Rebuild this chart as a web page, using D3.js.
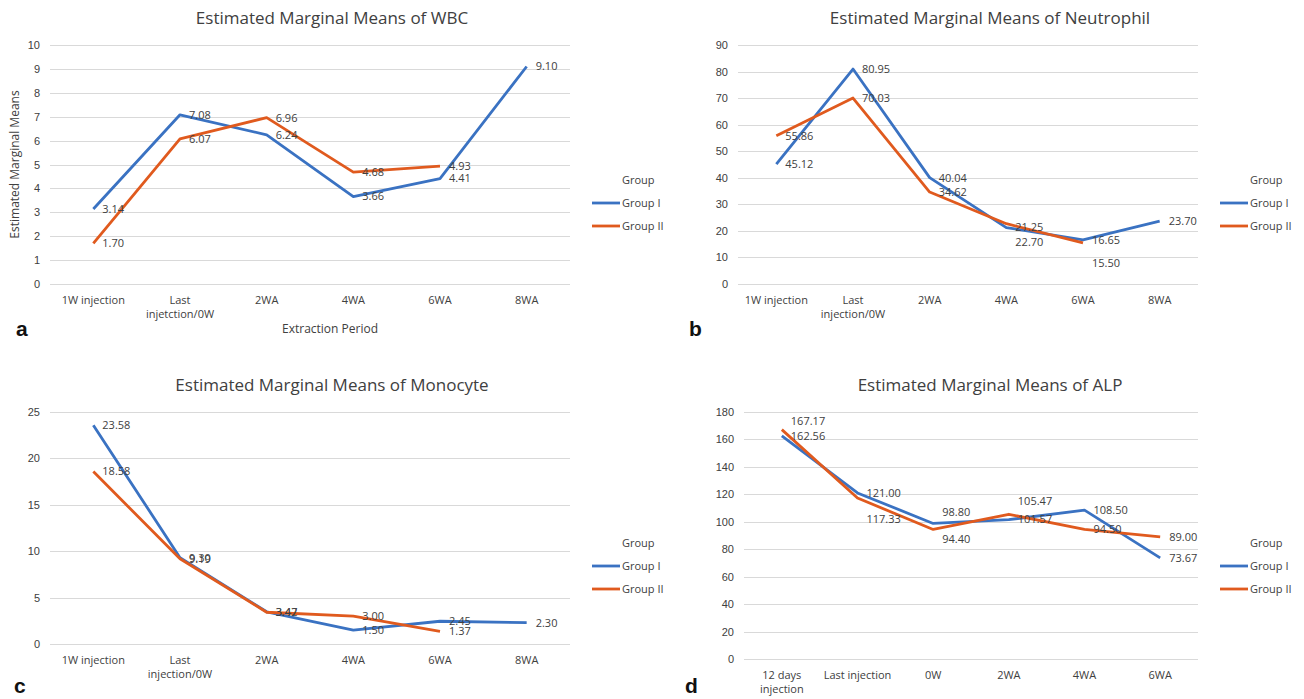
<!DOCTYPE html>
<html lang="en">
<head>
    <meta charset="UTF-8">
    <title>Estimated Marginal Means</title>
    <script src="https://cdn.jsdelivr.net/npm/d3@7/dist/d3.min.js"></script>
</head>
<body>
<style>
    body {
        margin: 0;
        background-color: white;
    }

    svg {
        display: block;
        font-family: "Open Sans", "Noto Sans", sans-serif;
    }

    .grid line {
        stroke: #d9d9d9;
        stroke-width: 1;
        shape-rendering: crispEdges;
    }

    .tick-label, .point-label, .legend text {
        fill: #404040;
        font-size: 11px;
    }

    .axis-title {
        fill: #404040;
        font-size: 12px;
    }

    .title {
        fill: #404040;
        font-size: 17px;
    }

    .letter {
        font-family: "Liberation Sans", Arial, sans-serif;
        font-weight: 700;
        font-size: 21px;
        fill: #111;
    }
</style>

<svg width="1304" height="699"></svg>

<script>
    // ---- data ----
    var seriesNames = ["Group I", "Group II"];

    var wbcCategories = ["1W injection", "Last\ninjetction/0W", "2WA", "4WA", "6WA", "8WA"];
    var wbcTicks = [0, 1, 2, 3, 4, 5, 6, 7, 8, 9, 10];
    var wbcGroupI = [3.14, 7.08, 6.24, 3.66, 4.41, 9.10];
    var wbcGroupII = [1.70, 6.07, 6.96, 4.68, 4.93, null];

    var neuCategories = ["1W injection", "Last\ninjection/0W", "2WA", "4WA", "6WA", "8WA"];
    var neuTicks = [0, 10, 20, 30, 40, 50, 60, 70, 80, 90];
    var neuGroupI = [45.12, 80.95, 40.04, 21.25, 16.65, 23.70];
    var neuGroupII = [55.86, 70.03, 34.62, 22.70, 15.50, null];

    var monoCategories = ["1W injection", "Last\ninjection/0W", "2WA", "4WA", "6WA", "8WA"];
    var monoTicks = [0, 5, 10, 15, 20, 25];
    var monoGroupI = [23.58, 9.30, 3.47, 1.50, 2.45, 2.30];
    var monoGroupII = [18.58, 9.19, 3.42, 3.00, 1.37, null];

    var alpCategories = ["12 days\ninjection", "Last injection", "0W", "2WA", "4WA", "6WA"];
    var alpTicks = [0, 20, 40, 60, 80, 100, 120, 140, 160, 180];
    var alpGroupI = [162.56, 121.00, 98.80, 101.57, 108.50, 73.67];
    var alpGroupII = [167.17, 117.33, 94.40, 105.47, 94.50, 89.00];

    // ---- drawing ----
    var svg = d3.select("svg");
    var colors = ["#3a72c2", "#e05a1e"];

    var panels = [
        {id: "a", title: "Estimated Marginal Means of WBC", cats: wbcCategories, ticks: wbcTicks,
            series: [wbcGroupI, wbcGroupII], x0: 50, x1: 570, y0: 45, y1: 284, titleX: 332, titleY: 24,
            yTitle: "Estimated Marginal Means", xTitle: "Extraction Period", legendX: 592, legendY: 180,
            letterX: 16, letterY: 336},
        {id: "b", title: "Estimated Marginal Means of Neutrophil", cats: neuCategories, ticks: neuTicks,
            series: [neuGroupI, neuGroupII], x0: 738, x1: 1198, y0: 45, y1: 284, titleX: 990, titleY: 24,
            legendX: 1220, legendY: 180, letterX: 689, letterY: 336},
        {id: "c", title: "Estimated Marginal Means of Monocyte", cats: monoCategories, ticks: monoTicks,
            series: [monoGroupI, monoGroupII], x0: 50, x1: 570, y0: 412, y1: 644, titleX: 332, titleY: 391,
            legendX: 592, legendY: 543, letterX: 14, letterY: 693},
        {id: "d", title: "Estimated Marginal Means of ALP", cats: alpCategories, ticks: alpTicks,
            series: [alpGroupI, alpGroupII], x0: 744, x1: 1198, y0: 412, y1: 659, titleX: 990, titleY: 391,
            legendX: 1220, legendY: 543, letterX: 685, letterY: 693}
    ];

    // labels that were dragged away from their point in the original
    var labelNudge = {"b-1-3": 18, "b-1-4": 20, "d-1-0": -8, "d-1-1": 21, "d-0-2": -11, "d-1-2": 10, "d-1-3": -13};

    panels.forEach(function (p) {
        var g = svg.append("g");
        var x = d3.scalePoint().domain(d3.range(p.cats.length)).range([p.x0, p.x1]).padding(0.5);
        var y = d3.scaleLinear().domain([0, d3.max(p.ticks)]).range([p.y1, p.y0]);

        // gridlines + y labels
        var yAxis = d3.axisLeft(y).tickValues(p.ticks).tickSize(-(p.x1 - p.x0)).tickPadding(10);
        var ya = g.append("g").attr("class", "grid").attr("transform", "translate(" + p.x0 + ",0)").call(yAxis);
        ya.select(".domain").remove();
        ya.selectAll("text").attr("class", "tick-label").attr("fill", null).style("font-family", null).attr("font-size", null);

        // x labels
        var xl = g.selectAll(".xl").data(p.cats).enter().append("text")
                .attr("class", "tick-label")
                .attr("text-anchor", "middle")
                .attr("x", function (d, i) {
                    return x(i);
                })
                .attr("y", p.y1 + 20);
        xl.each(function (d) {
            var t = d3.select(this);
            d.split("\n").forEach(function (line, k) {
                t.append("tspan").attr("x", t.attr("x")).attr("dy", k === 0 ? 0 : 14).text(line);
            });
        });

        // lines
        var line = d3.line()
                .defined(function (d) {
                    return d !== null;
                })
                .x(function (d, i) {
                    return x(i);
                })
                .y(function (d) {
                    return y(d);
                });
        p.series.forEach(function (s, si) {
            g.append("path")
                    .datum(s)
                    .attr("d", line)
                    .attr("fill", "none")
                    .attr("stroke", colors[si])
                    .attr("stroke-width", 2.8)
                    .attr("stroke-linejoin", "round");
        });

        // point labels
        p.series.forEach(function (s, si) {
            g.selectAll(".pl" + si).data(s).enter()
                    .filter(function (d) {
                        return d !== null;
                    })
                    .append("text")
                    .attr("class", "point-label")
                    .attr("x", function (d) {
                        return x(s.indexOf(d)) + 9;
                    })
                    .attr("y", function (d) {
                        var i = s.indexOf(d);
                        return y(d) + (labelNudge[p.id + "-" + si + "-" + i] || 0);
                    })
                    .attr("dy", "0.35em")
                    .text(function (d) {
                        return d3.format(".2f")(d);
                    });
        });

        // title
        g.append("text").attr("class", "title").attr("text-anchor", "middle")
                .attr("x", p.titleX).attr("y", p.titleY).text(p.title);

        if (p.yTitle) {
            g.append("text").attr("class", "axis-title").attr("text-anchor", "middle")
                    .attr("transform", "translate(19," + ((p.y0 + p.y1) / 2) + ") rotate(-90)")
                    .text(p.yTitle);
        }
        if (p.xTitle) {
            g.append("text").attr("class", "axis-title").attr("text-anchor", "middle")
                    .attr("x", 330).attr("y", p.y1 + 49).text(p.xTitle);
        }

        // legend
        var lg = g.append("g").attr("class", "legend").attr("transform", "translate(" + p.legendX + "," + p.legendY + ")");
        lg.append("text").attr("x", 30).attr("y", 0).attr("dy", "0.35em").text("Group");
        seriesNames.forEach(function (name, si) {
            var yy = 23 + si * 23;
            lg.append("line").attr("x1", 0).attr("x2", 28).attr("y1", yy).attr("y2", yy)
                    .attr("stroke", colors[si]).attr("stroke-width", 2.8);
            lg.append("text").attr("x", 30).attr("y", yy).attr("dy", "0.35em").text(name);
        });

        g.append("text").attr("class", "letter").attr("x", p.letterX).attr("y", p.letterY).text(p.id);
    });
</script>
</body>
</html>
